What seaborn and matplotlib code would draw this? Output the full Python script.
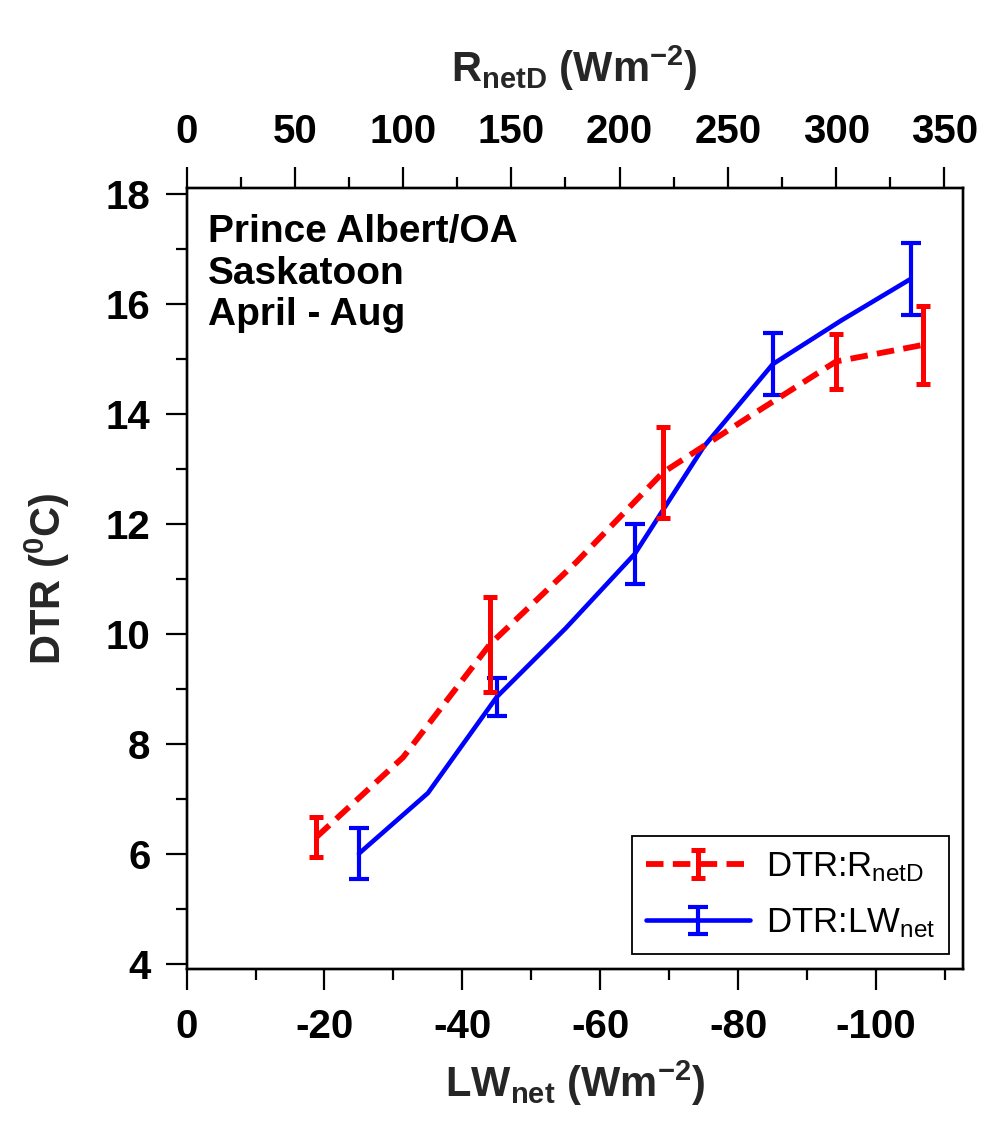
import numpy as np
import pandas as pd
import matplotlib
matplotlib.use("Agg")
import matplotlib.pyplot as plt
import seaborn as sns
from matplotlib.container import ErrorbarContainer
from matplotlib.legend_handler import HandlerErrorbar, HandlerTuple

# ---------------- data ----------------
# DTR vs LW_net (bottom axis)
lw_x = [-25, -35, -45, -55, -65, -75, -85, -95, -105]
lw_dtr = [6.0, 7.1, 8.85, 10.1, 11.45, 13.4, 14.9, 15.7, 16.45]
lw_bar_x = [-25, -45, -65, -85, -105]
lw_bar_err = [0.47, 0.34, 0.55, 0.56, 0.65]

# DTR vs R_netD (top axis)
rn_x = [60, 100, 140, 180, 220, 260, 300, 340]
rn_dtr = [6.3, 7.75, 9.8, 11.3, 12.93, 13.95, 14.95, 15.25]
rn_bar_x = [60, 140, 220, 300, 340]
rn_bar_err = [0.37, 0.86, 0.83, 0.5, 0.71]

y_ticks = [4, 6, 8, 10, 12, 14, 16, 18]
lw_ticks = [0, -20, -40, -60, -80, -100]
rn_ticks = [0, 50, 100, 150, 200, 250, 300, 350]
note_lines = ["Prince Albert/OA", "Saskatoon", "April - Aug"]
legend_labels = [r"DTR:R$_{\mathrm{netD}}$", r"DTR:LW$_{\mathrm{net}}$"]

df_lw = pd.DataFrame({"x": lw_x, "dtr": lw_dtr})
df_rn = pd.DataFrame({"x": rn_x, "dtr": rn_dtr})

# ---------------- style ----------------
sns.set_style("ticks")
plt.rcParams["font.family"] = ["Liberation Sans", "DejaVu Sans"]
plt.rcParams["mathtext.fontset"] = "custom"
plt.rcParams["mathtext.rm"] = "Liberation Sans"
plt.rcParams["mathtext.bf"] = "Liberation Sans:bold"
plt.rcParams["mathtext.it"] = "Liberation Sans:italic"
plt.rcParams["axes.unicode_minus"] = False
plt.rcParams["text.color"] = "black"
plt.rcParams["axes.edgecolor"] = "black"
plt.rcParams["xtick.color"] = "black"
plt.rcParams["ytick.color"] = "black"

RED = "#ff0000"
BLUE = "#0000ff"

fig = plt.figure(figsize=(9.96, 11.24), dpi=100)
fig.patch.set_facecolor("white")
ax = fig.add_axes([0.1873, 0.1379, 0.7796, 0.6946])
ax2 = ax.twiny()

# blue: LW_net on bottom axis
sns.lineplot(data=df_lw, x="x", y="dtr", ax=ax, color=BLUE, lw=3.3,
             sort=False, legend=False, solid_capstyle="round")
blue_line = ax.lines[-1]
bar_lw = df_lw.set_index("x").loc[lw_bar_x, "dtr"].values
blue_eb = ax.errorbar(lw_bar_x, bar_lw, yerr=lw_bar_err, fmt="none",
                      ecolor=BLUE, elinewidth=3.0, capsize=7, capthick=3.0)

# red: R_netD on top axis
sns.lineplot(data=df_rn, x="x", y="dtr", ax=ax2, color=RED, lw=4.2,
             sort=False, legend=False, linestyle=(0, (3.0, 1.6)))
red_line = ax2.lines[-1]
bar_rn = df_rn.set_index("x").loc[rn_bar_x, "dtr"].values
red_eb = ax2.errorbar(rn_bar_x, bar_rn, yerr=rn_bar_err, fmt="none",
                      ecolor=RED, elinewidth=3.6, capsize=5, capthick=3.6)
for c in red_eb.lines[1]:
    c.set_solid_capstyle("round")
for lc in red_eb.lines[2]:
    lc.set_capstyle("round")

# ---------------- axes ----------------
ax.set_ylim(3.9, 18.1)
ax.set_yticks(y_ticks)
ax.set_yticks(np.arange(5, 18, 2), minor=True)
ax.set_xlim(0, -112.6)
ax.set_xticks(lw_ticks)
ax.set_xticks(np.arange(-10, -111, -20), minor=True)
ax2.set_xlim(0, 358.6)
ax2.set_xticks(rn_ticks)
ax2.set_xticks(np.arange(25, 351, 50), minor=True)

for a in (ax, ax2):
    for s in a.spines.values():
        s.set_linewidth(1.7)
        s.set_color("black")
    a.tick_params(which="major", direction="out", length=15, width=1.6,
                  labelsize=29, pad=11)
    a.tick_params(which="minor", direction="out", length=8, width=1.6)
ax.tick_params(axis="y", which="both", right=False)
ax.tick_params(axis="x", which="both", top=False)
ax.tick_params(axis="x", which="major", pad=13)
ax2.tick_params(axis="x", which="major", pad=12)

for lbl in ax.get_xticklabels() + ax.get_yticklabels() + ax2.get_xticklabels():
    lbl.set_fontweight("bold")

ax.set_xlabel(r"LW$_{\mathbf{net}}$ (Wm$^{\mathbf{-2}}$)", fontsize=30,
              fontweight="bold", labelpad=9)
ax.set_ylabel(r"DTR ($^{\mathbf{0}}$C)", fontsize=30, fontweight="bold",
              labelpad=24)
ax2.set_xlabel(r"R$_{\mathbf{netD}}$ (Wm$^{\mathbf{-2}}$)", fontsize=30,
               fontweight="bold", labelpad=22)

ax.text(0.0276, 0.967, "\n".join(note_lines), transform=ax.transAxes,
        ha="left", va="top", fontsize=28, fontweight="bold", linespacing=1.2)

leg = ax2.legend(handles=[(red_line, red_eb), (blue_line, blue_eb)],
                 labels=legend_labels,
                 handler_map={ErrorbarContainer: HandlerErrorbar(xerr_size=0.4),
                              tuple: HandlerTuple(ndivide=1)},
                 loc="lower right", bbox_to_anchor=(0.982, 0.019),
                 borderaxespad=0, frameon=True, fancybox=False,
                 edgecolor="black", framealpha=1,
                 prop={"family": "Liberation Sans", "size": 25, "weight": "normal"},
                 handlelength=3.0, handletextpad=0.45, labelspacing=0.65,
                 borderpad=0.4)
leg.get_frame().set_linewidth(1.3)

fig.savefig("out.png", dpi=100, facecolor="white")
